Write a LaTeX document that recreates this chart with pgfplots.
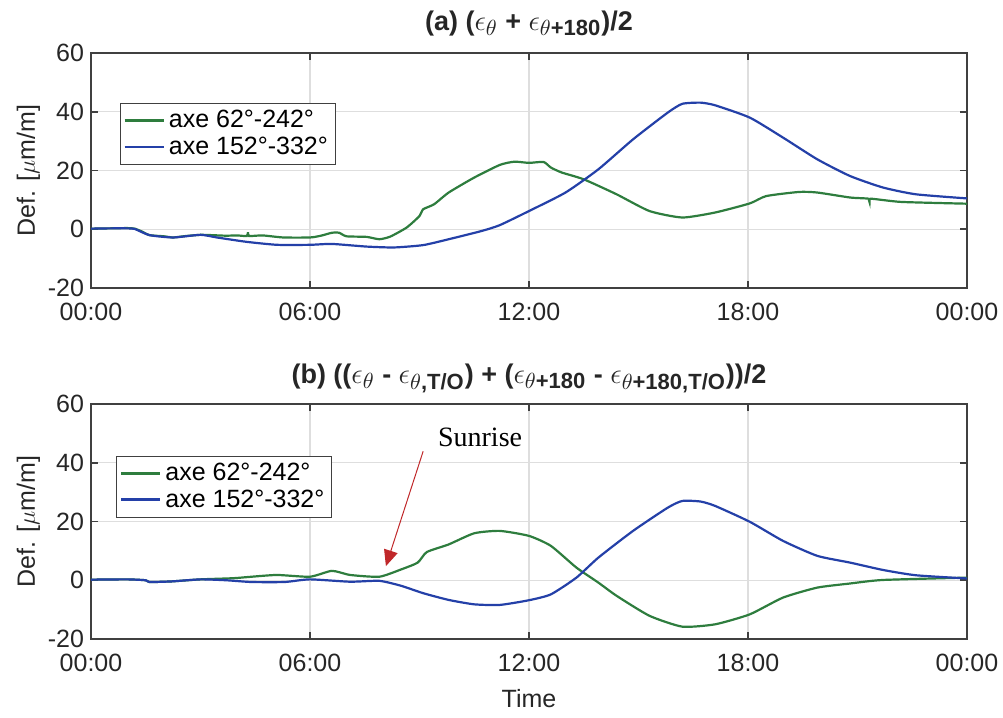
\documentclass[border=0pt]{standalone}
\usepackage{amsmath}
\usepackage{pgfplots}
\pgfplotsset{compat=1.18}
\usepackage{fontspec}
\setmainfont{Liberation Sans}
\newfontfamily\seriffont{Liberation Serif}
\usetikzlibrary{arrows.meta}
\definecolor{mgreen}{RGB}{46,125,62}
\definecolor{mblue}{RGB}{36,64,168}
\definecolor{axgray}{RGB}{64,64,64}
\definecolor{txtgray}{RGB}{38,38,38}
\definecolor{gridgray}{RGB}{222,222,222}
\definecolor{arrred}{RGB}{192,40,42}
\newcommand{\sub}[1]{\mbox{\fontsize{11}{13}\selectfont #1}}

\pgfplotstableread{
x y
0 0.2
0.5 0.3
1.0 0.4
1.2 0.2
1.4 -0.8
1.6 -2.0
2.0 -2.4
2.25 -2.8
2.6 -2.3
3.0 -1.9
3.3 -2.0
3.7 -2.2
4.0 -2.1
4.27 -2.3
4.30 -1.0
4.33 -2.3
4.7 -2.1
5.27 -2.8
6.0 -2.8
6.3 -2.2
6.6 -1.2
6.8 -1.2
7.0 -2.4
7.55 -2.6
7.9 -3.4
8.2 -2.5
8.65 0.6
9.0 4.5
9.1 6.8
9.4 8.5
9.8 12.5
10.5 17.6
11.2 21.9
11.6 23.0
12.0 22.6
12.4 22.9
12.6 21.0
12.9 19.3
13.5 17.0
14.4 11.9
15.3 6.2
16.2 4.0
17.1 5.7
18.05 8.8
18.5 11.3
19.4 12.7
19.9 12.5
20.8 10.8
21.3 10.4
21.33 9.2
21.36 10.4
22.2 9.3
24 8.7
}\topgreen

\pgfplotstableread{
x y
0 0.2
0.5 0.3
1.0 0.3
1.2 0.1
1.6 -2.0
2.25 -2.8
3.0 -1.9
3.45 -2.8
4.27 -4.3
5.1 -5.3
6.0 -5.3
6.6 -5.0
7.55 -5.9
8.3 -6.2
9.1 -5.4
9.8 -3.4
10.7 -0.6
11.2 1.4
12.0 6.2
13.0 12.5
13.9 20.4
14.85 30.6
15.8 39.7
16.2 42.7
16.7 43.1
17.1 42.2
18.05 38.0
18.96 31.2
19.9 23.8
20.8 18.1
21.7 14.2
22.6 11.9
24 10.5
}\topblue

\pgfplotstableread{
x y
0 0.2
1.0 0.3
1.5 0
1.6 -0.6
2.2 -0.4
3.0 0.3
3.9 0.7
4.4 1.2
5.1 1.8
6.0 1.2
6.6 3.2
7.1 1.8
7.9 1.2
8.5 3.7
8.95 6.0
9.2 9.6
9.8 12.2
10.5 16.0
11.2 16.8
12.0 15.1
12.6 11.7
13.3 4.3
13.9 -0.8
14.4 -5.3
15.3 -12.1
16.2 -15.8
17.1 -15.0
18.05 -11.6
18.96 -5.9
19.9 -2.5
20.8 -1.1
21.7 0.1
24 0.9
}\botgreen

\pgfplotstableread{
x y
0 0.2
1.0 0.3
1.5 0
1.6 -0.6
2.2 -0.4
3.0 0.3
3.7 0
4.4 -0.6
5.3 -0.6
6.0 0.3
7.1 -0.5
7.9 -0.2
8.5 -1.9
9.1 -4.4
9.8 -6.7
10.5 -8.2
11.2 -8.4
12.0 -6.8
12.6 -4.8
13.3 0.9
13.9 7.7
14.85 16.8
15.8 24.7
16.2 27.0
16.7 26.8
17.1 25.3
18.05 19.9
18.96 13.4
19.9 8.3
20.8 6.0
21.7 3.5
22.6 1.7
24 0.6
}\botblue

\pgfplotsset{
  mstyle/.style={
    scale only axis, width=438pt, height=117.5pt,
    xmin=0, xmax=24, ymin=-20, ymax=60,
    xtick={0,6,12,18,24},
    xticklabels={00:00,06:00,12:00,18:00,00:00},
    ytick={-20,0,20,40,60},
    grid=major,
    major grid style={gridgray, line width=0.6pt},
    axis line style={axgray, line width=0.8pt},
    tick style={axgray, line width=0.8pt},
    tick align=inside, major tick length=3.5pt,
    xtick pos=both, ytick pos=both,
    ticklabel style={font=\fontsize{12.5}{15}\selectfont, text=txtgray},
    xticklabel style={yshift=-4pt},
    /pgf/number format/assume math mode=true,
    ylabel={Def. [$\mu$m/m]},
    ylabel shift=-3pt,
    ylabel style={font=\fontsize{12.5}{15}\selectfont, text=txtgray},
    xlabel style={font=\fontsize{12.5}{15}\selectfont, text=txtgray, yshift=-2pt},
    title style={font=\bfseries\fontsize{13.5}{16}\selectfont, text=txtgray, at={(0.5,1)}, anchor=base},
    legend style={font=\fontsize{12.5}{15}\selectfont, text=black, draw=axgray, fill=white, inner sep=1.5pt, row sep=-1pt},
    legend cell align=left,
    legend image code/.code={\draw[#1, line width=1.3pt] (0pt,0pt) -- (19.5pt,0pt);},
    every axis plot/.append style={smooth, tension=0.35, line width=1.1pt},
  }
}

\begin{document}
\begin{tikzpicture}
\path[use as bounding box] (-45.5pt,-39.5pt) rectangle (456pt,319.5pt);
\begin{axis}[mstyle, at={(0pt,175.5pt)},
  title style={yshift=5.5pt},
  title={(a) ($\epsilon_{\sub{$\theta$}}$ + $\epsilon_{\sub{$\theta$\textbf{+180}}}$)/2},
  legend style={at={(0.033,0.787)}, anchor=north west}]
\addplot[mgreen] table[x=x,y=y] {\topgreen};
\addlegendentry{axe 62°-242°}
\addplot[mblue] table[x=x,y=y] {\topblue};
\addlegendentry{axe 152°-332°}
\end{axis}
\begin{axis}[mstyle, at={(0pt,0pt)},
  title style={yshift=4.5pt},
  title={(b) (($\epsilon_{\sub{$\theta$}}$ - $\epsilon_{\sub{$\theta$\textbf{,T/O}}}$) + ($\epsilon_{\sub{$\theta$\textbf{+180}}}$ - $\epsilon_{\sub{$\theta$\textbf{+180,T/O}}}$))/2},
  xlabel={Time},
  legend style={at={(0.029,0.78)}, anchor=north west}]
\addplot[mgreen] table[x=x,y=y] {\botgreen};
\addlegendentry{axe 62°-242°}
\addplot[mblue] table[x=x,y=y] {\botblue};
\addlegendentry{axe 152°-332°}
\draw[arrred, line width=0.5pt, -{Triangle[length=8pt,width=7pt]}] (axis cs:9.1,43.9) -- (axis cs:8.08,4.8);
\node[font=\seriffont\fontsize{14}{16}\selectfont, text=black] at (axis cs:10.66,48.6) {Sunrise};
\end{axis}
\end{tikzpicture}
\end{document}
